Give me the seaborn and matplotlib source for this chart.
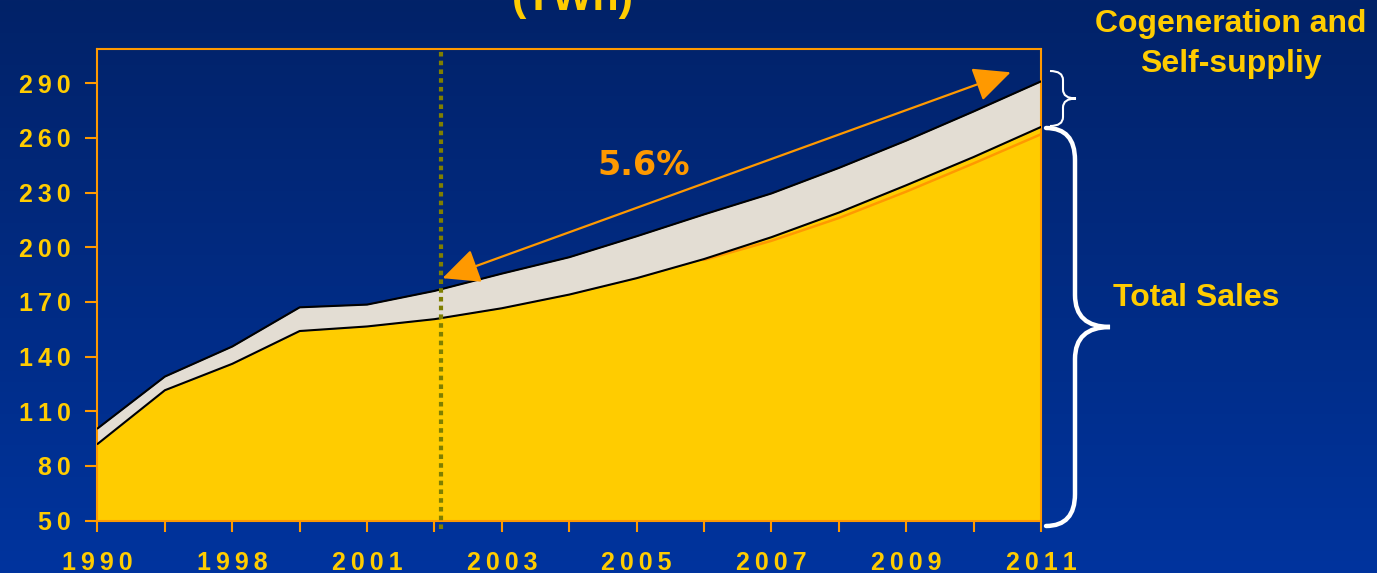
import numpy as np
import matplotlib
matplotlib.use("Agg")
import matplotlib.pyplot as plt
import matplotlib.patches as mpatches
from matplotlib.path import Path
import seaborn as sns

# ---------------- data ----------------
period_labels = ['1990', '', '1998', '', '2001', '', '2003', '', '2005', '',
                 '2007', '', '2009', '', '2011']
total_sales = [92, 121.5, 136, 154, 156.5, 160.5, 166.5, 174, 183, 193.5,
               205.5, 219, 234, 249.5, 266]
total_with_cogen = [100.5, 129, 145.5, 167, 168.5, 176, 185.5, 194.5, 206, 218,
                    229.5, 243.5, 258.5, 274.5, 291]
alt_sales_pos = [9, 10, 11, 12, 13, 14]
alt_sales = [193, 203.5, 216, 230.5, 246, 262]
y_ticks = [50, 80, 110, 140, 170, 200, 230, 260, 290]
growth_label = '5.6%'

# ---------------- style ----------------
W, H = 1377, 573
YEL = '#FFCC00'
ORG = '#FF9900'
GREY = '#E3DDD3'
OLIVE = '#7F7F00'
SP = '\u2009'
FAM = ['Liberation Sans', 'DejaVu Sans']

sns.set_style('white')
plt.rcParams['font.family'] = ['DejaVu Sans']


def spaced(s):
    return SP.join(list(s))


fig = plt.figure(figsize=(W / 100, H / 100), dpi=100)

# gradient background
bg = fig.add_axes([0, 0, 1, 1], zorder=-10)
top_c = np.array([0x02, 0x22, 0x68]) / 255
bot_c = np.array([0x00, 0x34, 0x9E]) / 255
t = np.linspace(0, 1, 256)[:, None]
grad = (top_c[None, :] * (1 - t) + bot_c[None, :] * t)[:, None, :]
bg.imshow(grad, aspect='auto', extent=[0, 1, 0, 1])
bg.axis('off')

ax = fig.add_axes([97.5 / W, 1 - 520.5 / H, (1041 - 97.5) / W, (520.5 - 48.6) / H])
ax.set_facecolor('none')

x = np.arange(len(total_sales))
ax.fill_between(x, 50, total_sales, color=YEL, lw=0, zorder=1)
ax.fill_between(x, total_sales, total_with_cogen, color=GREY, lw=0, zorder=1)
sns.lineplot(x=alt_sales_pos, y=alt_sales, color=ORG, lw=1.8, ax=ax, zorder=2)
sns.lineplot(x=x, y=total_sales, color='black', lw=1.5, ax=ax, zorder=3)
sns.lineplot(x=x, y=total_with_cogen, color='black', lw=1.5, ax=ax, zorder=3)

ax.set_xlim(0, 14)
ax.set_ylim(50, 309)

ax.set_xticks(x)
ax.set_xticklabels([spaced(s) for s in period_labels])
ax.set_yticks(y_ticks)
ax.set_yticklabels([spaced(str(v)) for v in y_ticks])
for lab in ax.get_xticklabels() + ax.get_yticklabels():
    lab.set_fontweight('bold')
    lab.set_fontsize(18)
    lab.set_color(YEL)
    lab.set_family(FAM)
ax.tick_params(axis='x', length=8, width=1.5, color=ORG, pad=14, bottom=True)
ax.tick_params(axis='y', length=8.5, width=1.5, color=ORG, pad=11, left=True)
for s in ax.spines.values():
    s.set_color(ORG)
    s.set_linewidth(1.5)
    s.set_visible(True)
ax.set_xlabel('')
ax.set_ylabel('')

# vertical dotted marker
ax.axvline(5.1, ymin=-0.018, ymax=1, color=OLIVE, lw=3, ls=(0, (1.1, 1.0)),
           clip_on=False, zorder=4)

# growth arrow
ax.annotate('', xy=(13.55, 296), xytext=(5.12, 183),
            arrowprops=dict(arrowstyle='<|-|>,head_length=1.15,head_width=0.54',
                            mutation_scale=20, color=ORG, lw=1.6,
                            shrinkA=0, shrinkB=0), zorder=5)
ax.text(8.1, 245, growth_label, color=ORG, fontsize=24, fontweight='bold',
        ha='center', va='center', zorder=5)

# title fragment (cut by the top edge, as in the source slide)
fig.text(573 / W, 1 - 10 / H, '(TWh)', ha='center', va='baseline', fontsize=31,
         fontweight='bold', color=YEL, family=FAM)


def px(xp, yp):
    return (xp / W, 1 - yp / H)


def brace(x0, ytop, ybot, xm, xtip, r):
    ymid = (ytop + ybot) / 2
    verts = [px(x0, ytop), px(xm, ytop), px(xm, ytop + r),
             px(xm, ymid - r), px(xm, ymid), px(xtip, ymid),
             px(xm, ymid), px(xm, ymid + r),
             px(xm, ybot - r), px(xm, ybot), px(x0, ybot)]
    codes = [Path.MOVETO, Path.CURVE3, Path.CURVE3,
             Path.LINETO, Path.CURVE3, Path.CURVE3,
             Path.CURVE3, Path.CURVE3,
             Path.LINETO, Path.CURVE3, Path.CURVE3]
    return Path(verts, codes)


fig.patches.append(mpatches.PathPatch(brace(1046, 128, 526, 1075, 1110, 32),
                                      transform=fig.transFigure, fill=False,
                                      edgecolor='white', lw=3.2, capstyle='round'))
fig.patches.append(mpatches.PathPatch(brace(1050, 71, 126, 1063, 1076, 9),
                                      transform=fig.transFigure, fill=False,
                                      edgecolor='white', lw=1.5))

fig.text(1231 / W, 1 - 44 / H, 'Cogeneration and\nSelf-suppliy', ha='center',
         va='center', fontsize=23, fontweight='bold', color=YEL,
         linespacing=1.42, family=FAM)
fig.text(1196 / W, 1 - 298 / H, 'Total Sales', ha='center', va='center',
         fontsize=23, fontweight='bold', color=YEL, family=FAM)

fig.savefig('out.png', dpi=100)
